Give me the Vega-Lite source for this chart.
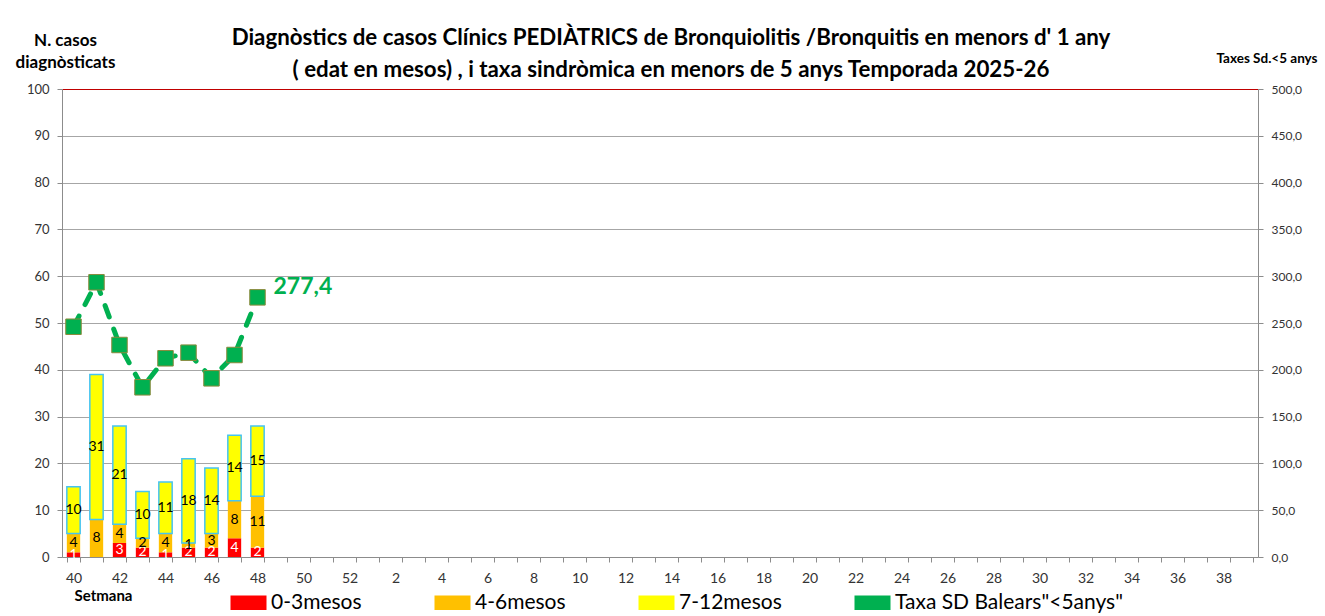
{
  "$schema": "https://vega.github.io/schema/vega-lite/v6.json",
  "width": 1196,
  "height": 468,
  "autosize": "none",
  "padding": {"left": 62, "top": 89, "right": 67, "bottom": 59},
  "background": "white",
  "config": {
    "font": "Lato",
    "locale": {"number": {"decimal": ",", "thousands": ".", "grouping": [3], "currency": ["", " €"]}},
    "view": {"stroke": null},
    "axis": {"labelFont": "Lato", "labelColor": "#333333", "domainColor": "#8C8C8C", "tickColor": "#8C8C8C", "titleFont": "Lato", "titleFontWeight": "bold", "titleColor": "#000000"}
  },
  "title": {
    "text": ["Diagnòstics de casos Clínics PEDIÀTRICS de Bronquiolitis /Bronquitis en menors d' 1 any", "( edat en mesos) , i taxa sindròmica en menors de 5 anys Temporada 2025-26"],
    "anchor": "middle",
    "dx": 11,
    "font": "Lato",
    "fontSize": 22.3,
    "fontWeight": "bold",
    "color": "#000000",
    "lineHeight": 32,
    "offset": -50
  },
  "datasets": {
    "cases": [
      {"week": 40, "cat": "0-3mesos", "ord": 1, "n": 1},
      {"week": 40, "cat": "4-6mesos", "ord": 2, "n": 4},
      {"week": 40, "cat": "7-12mesos", "ord": 3, "n": 10},
      {"week": 41, "cat": "0-3mesos", "ord": 1, "n": 0},
      {"week": 41, "cat": "4-6mesos", "ord": 2, "n": 8},
      {"week": 41, "cat": "7-12mesos", "ord": 3, "n": 31},
      {"week": 42, "cat": "0-3mesos", "ord": 1, "n": 3},
      {"week": 42, "cat": "4-6mesos", "ord": 2, "n": 4},
      {"week": 42, "cat": "7-12mesos", "ord": 3, "n": 21},
      {"week": 43, "cat": "0-3mesos", "ord": 1, "n": 2},
      {"week": 43, "cat": "4-6mesos", "ord": 2, "n": 2},
      {"week": 43, "cat": "7-12mesos", "ord": 3, "n": 10},
      {"week": 44, "cat": "0-3mesos", "ord": 1, "n": 1},
      {"week": 44, "cat": "4-6mesos", "ord": 2, "n": 4},
      {"week": 44, "cat": "7-12mesos", "ord": 3, "n": 11},
      {"week": 45, "cat": "0-3mesos", "ord": 1, "n": 2},
      {"week": 45, "cat": "4-6mesos", "ord": 2, "n": 1},
      {"week": 45, "cat": "7-12mesos", "ord": 3, "n": 18},
      {"week": 46, "cat": "0-3mesos", "ord": 1, "n": 2},
      {"week": 46, "cat": "4-6mesos", "ord": 2, "n": 3},
      {"week": 46, "cat": "7-12mesos", "ord": 3, "n": 14},
      {"week": 47, "cat": "0-3mesos", "ord": 1, "n": 4},
      {"week": 47, "cat": "4-6mesos", "ord": 2, "n": 8},
      {"week": 47, "cat": "7-12mesos", "ord": 3, "n": 14},
      {"week": 48, "cat": "0-3mesos", "ord": 1, "n": 2},
      {"week": 48, "cat": "4-6mesos", "ord": 2, "n": 11},
      {"week": 48, "cat": "7-12mesos", "ord": 3, "n": 15}
    ],
    "rates": [
      {"week": 40, "rate": 246.0},
      {"week": 41, "rate": 293.5},
      {"week": 42, "rate": 226.5},
      {"week": 43, "rate": 181.3},
      {"week": 44, "rate": 212.3},
      {"week": 45, "rate": 218.3},
      {"week": 46, "rate": 190.9},
      {"week": 47, "rate": 215.8},
      {"week": 48, "rate": 277.4}
    ]
  },
  "encoding": {
    "x": {
      "field": "week",
      "type": "ordinal",
      "scale": {
        "domain": [40, 41, 42, 43, 44, 45, 46, 47, 48, 49, 50, 51, 52, 1, 2, 3, 4, 5, 6, 7, 8, 9, 10, 11, 12, 13, 14, 15, 16, 17, 18, 19, 20, 21, 22, 23, 24, 25, 26, 27, 28, 29, 30, 31, 32, 33, 34, 35, 36, 37, 38, 39],
        "paddingInner": 0.42,
        "paddingOuter": 0.21
      },
      "axis": {
        "title": "Setmana",
        "titleX": 41,
        "titleY": 38,
        "titleAlign": "center",
        "titleBaseline": "middle",
        "titleFontSize": 15,
        "labelExpr": "datum.value % 2 == 0 ? datum.label : ''",
        "labelAngle": 0,
        "labelFontSize": 14,
        "labelPadding": 9,
        "tickBand": "extent",
        "tickSize": 5,
        "grid": false
      }
    }
  },
  "layer": [
    {
      "layer": [
        {
          "data": {"name": "cases"},
          "mark": {"type": "bar", "strokeWidth": 1.5},
          "encoding": {
            "y": {
              "field": "n",
              "type": "quantitative",
              "stack": "zero",
              "scale": {"domain": [0, 100]},
              "axis": {
                "values": [0, 10, 20, 30, 40, 50, 60, 70, 80, 90, 100],
                "title": ["N. casos", "diagnòsticats"],
                "titleAngle": 0,
                "titleX": 3,
                "titleY": -49,
                "titleAlign": "center",
                "titleBaseline": "middle",
                "titleFontSize": 17,
                "titleLineHeight": 22,
                "labelFontSize": 13,
                "labelPadding": 8,
                "tickSize": 5,
                "grid": true,
                "gridColor": {"condition": {"test": "datum.value === 100", "value": "#C00000"}, "value": "#A6A6A6"},
                "gridWidth": 1.2
              }
            },
            "color": {
              "field": "cat",
              "type": "nominal",
              "scale": {
                "domain": ["0-3mesos", "4-6mesos", "7-12mesos", "Taxa SD Balears\"<5anys\""],
                "range": ["#FF0000", "#FFC000", "#FFFF00", "#00B050"]
              },
              "legend": {
                "orient": "none",
                "legendX": 176,
                "legendY": 503,
                "direction": "horizontal",
                "title": null,
                "labelFont": "Lato",
                "labelFontSize": 21,
                "labelColor": "#000000",
                "labelLimit": 400,
                "symbolType": "M-2,-0.8H2V0.8H-2Z",
                "symbolSize": 324,
                "symbolStrokeWidth": 0,
                "labelOffset": 12,
                "columnPadding": 72
              }
            },
            "order": {"field": "ord", "type": "quantitative"},
            "stroke": {"condition": {"test": "datum.cat === '7-12mesos'", "value": "#45C4F2"}, "value": "transparent"}
          }
        },
        {
          "data": {"name": "cases"},
          "transform": [
            {"stack": "n", "groupby": ["week"], "sort": [{"field": "ord", "order": "ascending"}], "as": ["y0", "y1"]},
            {"fold": ["y0", "y1"], "as": ["k", "v"]},
            {"aggregate": [{"op": "mean", "field": "v", "as": "mid"}, {"op": "max", "field": "n", "as": "n"}], "groupby": ["week", "cat", "ord"]},
            {"filter": "datum.n > 0"}
          ],
          "mark": {"type": "text", "fontSize": 14, "font": "Lato", "baseline": "middle"},
          "encoding": {
            "y": {"field": "mid", "type": "quantitative"},
            "text": {"field": "n", "type": "quantitative"},
            "color": {"condition": {"test": "datum.cat === '0-3mesos'", "value": "#FFFFFF"}, "value": "#000000"}
          }
        }
      ]
    },
    {
      "data": {"name": "rates"},
      "encoding": {
        "y": {
          "field": "rate",
          "type": "quantitative",
          "scale": {"domain": [0, 500]},
          "axis": {
            "orient": "right",
            "values": [0, 50, 100, 150, 200, 250, 300, 350, 400, 450, 500],
            "format": ".1f",
            "title": "Taxes Sd.<5 anys",
            "titleAngle": 0,
            "titleX": -42,
            "titleY": -31,
            "titleAlign": "left",
            "titleBaseline": "middle",
            "titleFontSize": 13.5,
            "labelFontSize": 12,
            "labelPadding": 8,
            "tickSize": 5,
            "grid": false
          }
        }
      },
      "layer": [
        {
          "mark": {"type": "line", "strokeWidth": 5, "strokeDash": [12, 13], "strokeCap": "round"},
          "encoding": {"color": {"datum": "Taxa SD Balears\"<5anys\""}}
        },
        {
          "mark": {"type": "square", "size": 240, "filled": true, "fill": "#00B050", "stroke": "#8A8A3C", "strokeWidth": 1, "opacity": 1},
          "encoding": {}
        },
        {
          "transform": [{"filter": "datum.week === 48"}],
          "mark": {"type": "text", "align": "left", "baseline": "middle", "dx": 16, "dy": -10, "fontSize": 23, "fontWeight": "bold", "font": "Lato", "color": "#00B050"},
          "encoding": {"text": {"field": "rate", "type": "quantitative", "format": ".1f"}}
        }
      ]
    }
  ],
  "resolve": {"scale": {"y": "independent"}}
}
